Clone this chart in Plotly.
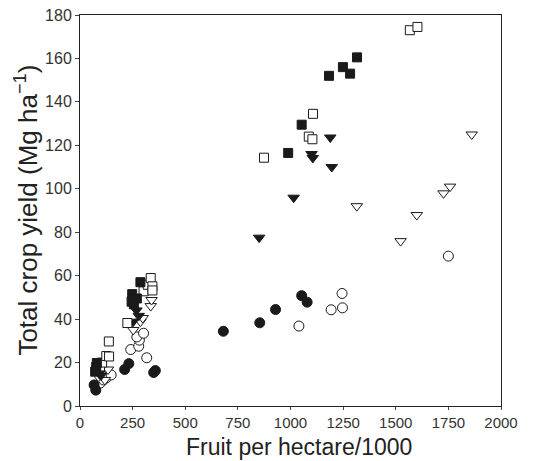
import plotly.graph_objects as go

# Filled circles
fc_x = [67, 75, 212, 232, 350, 358, 681, 854, 929, 1053, 1079]
fc_y = [9.7, 7.3, 16.8, 19.5, 15.4, 16.3, 34.4, 38.3, 44.4, 50.8, 47.8]
# Open circles
oc_x = [95, 112, 125, 148, 241, 279, 282, 270, 302, 317, 1040, 1193, 1245, 1247, 1750]
oc_y = [10.5, 12.0, 13.0, 14.3, 26.0, 27.5, 30.3, 31.8, 33.5, 22.2, 36.8, 44.3, 51.8, 45.2, 69.0]
# Filled squares
fs_x = [72, 77, 80, 245, 248, 252, 256, 270, 287, 989, 1053, 1183, 1249, 1283, 1316]
fs_y = [15.8, 18.0, 19.8, 48.0, 51.5, 49.0, 46.8, 49.5, 57.0, 116.5, 129.5, 152.0, 156.0, 153.0, 160.5]
# Open squares
os_x = [95, 105, 125, 138, 137, 225, 302, 322, 336, 344, 344, 874, 1087, 1104, 1107, 1567, 1603]
os_y = [18.2, 20.0, 23.0, 22.8, 29.7, 38.2, 52.8, 55.8, 58.9, 55.1, 53.2, 114.3, 124.0, 122.8, 134.5, 173.0, 174.5]
# Filled triangles
ft_x = [90, 100, 252, 268, 279, 851, 1015, 1100, 1106, 1189, 1196]
ft_y = [15.0, 14.0, 38.8, 44.0, 41.5, 77.5, 95.9, 116.0, 114.2, 123.6, 110.0]
# Open triangles
ot_x = [87, 118, 133, 253, 287, 298, 336, 340, 1315, 1523, 1600, 1727, 1758, 1861]
ot_y = [13.5, 12.0, 16.8, 35.0, 38.8, 40.5, 46.0, 48.8, 92.0, 75.9, 87.9, 97.9, 101.0, 125.0]

x_ticks = [0, 250, 500, 750, 1000, 1250, 1500, 1750, 2000]
y_ticks = [0, 20, 40, 60, 80, 100, 120, 140, 160, 180]

x_title = "Fruit per hectare/1000"
y_title = "Total crop yield (Mg ha<sup>−1</sup>)"

BLACK = "#1a1a1a"

def series(x, y, symbol, filled, size):
    return go.Scatter(
        x=x, y=y, mode="markers", showlegend=False,
        marker=dict(symbol=symbol, size=size,
                    color=BLACK if filled else "white",
                    line=dict(color=BLACK, width=1)),
        cliponaxis=False,
    )

fig = go.Figure()
fig.add_trace(series(oc_x, oc_y, "circle", False, 10))
fig.add_trace(series(fc_x, fc_y, "circle", True, 10))
fig.add_trace(series(ot_x, ot_y, "triangle-down", False, 10))
fig.add_trace(series(ft_x, ft_y, "triangle-down", True, 10))
fig.add_trace(series(os_x, os_y, "square", False, 9))
fig.add_trace(series(fs_x, fs_y, "square", True, 9))

FONT = "Liberation Sans, Arial, sans-serif"
axis_font = dict(family=FONT, size=15, color="#333333")
xtitle_font = dict(family=FONT, size=23, color="#222222")
ytitle_font = dict(family=FONT, size=26, color="#222222")

fig.update_layout(
    width=540, height=461,
    margin=dict(l=80, r=39, t=15, b=55),
    paper_bgcolor="white", plot_bgcolor="white",
    xaxis=dict(
        range=[0, 2000], tickvals=x_ticks, ticktext=[str(v) for v in x_ticks],
        showgrid=False, zeroline=False, showline=True, linecolor="#222222", linewidth=1,
        mirror=True, ticks="outside", ticklen=3, tickcolor="#444444",
        tickfont=axis_font, automargin=False,
    ),
    yaxis=dict(
        range=[0, 180], tickvals=y_ticks, ticktext=[str(v) for v in y_ticks],
        showgrid=False, zeroline=False, showline=True, linecolor="#222222", linewidth=1,
        mirror=True, ticks="outside", ticklen=4, tickcolor="#444444",
        tickfont=dict(family=FONT, size=16, color="#333333"), automargin=False,
    ),
    annotations=[
        dict(text=x_title, xref="paper", yref="paper", x=0.52, y=-0.1405,
             xanchor="center", yanchor="bottom", showarrow=False, font=xtitle_font,
             borderpad=0),
        dict(text=y_title, xref="paper", yref="paper", x=-0.128, y=0.5,
             xanchor="center", yanchor="middle", textangle=-90, showarrow=False,
             font=ytitle_font),
    ],
)

fig.write_html("out.html")
